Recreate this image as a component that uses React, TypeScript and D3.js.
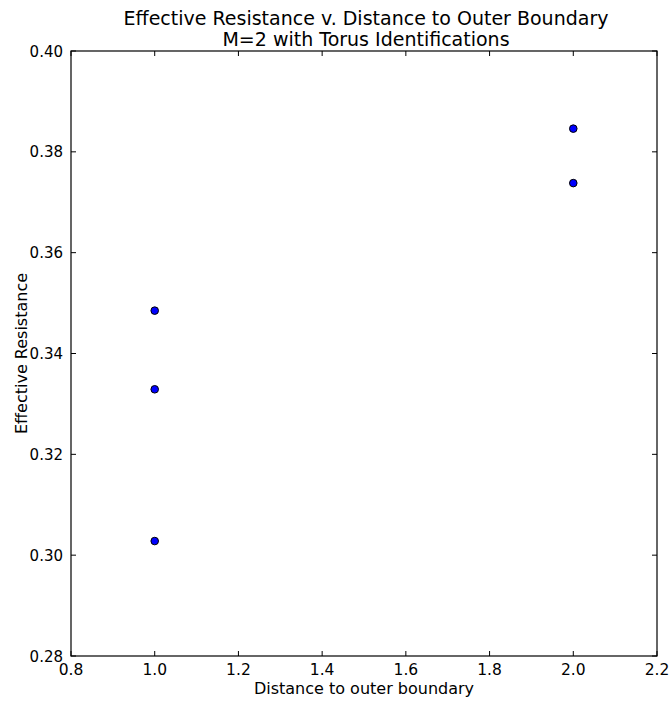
import React from "react";
import * as d3 from "d3";

const xValues = [1.0, 1.0, 1.0, 2.0, 2.0];
const yValues = [0.3485, 0.3329, 0.3028, 0.3846, 0.3738];
const xTicks = [0.8, 1.0, 1.2, 1.4, 1.6, 1.8, 2.0, 2.2];
const yTicks = [0.28, 0.3, 0.32, 0.34, 0.36, 0.38, 0.4];
const titleLines = ["Effective Resistance v. Distance to Outer Boundary", "M=2 with Torus Identifications"];
const xLabel = "Distance to outer boundary";
const yLabel = "Effective Resistance";

const W = 672, H = 703;
const L = 71, R = 657, T = 51, B = 656;
const font = "DejaVu Sans, sans-serif";

export default function App() {
  const x = d3.scaleLinear().domain([0.8, 2.2]).range([L, R]);
  const y = d3.scaleLinear().domain([0.28, 0.4]).range([B, T]);
  const tl = 5;
  return (
    <svg width={W} height={H} style={{ position: "absolute", left: 0, top: 0, background: "#fff" }} fontFamily={font}>
      <rect x={0} y={0} width={W} height={H} fill="#fff" />
      {titleLines.map((t, i) => (
        <text key={i} x={(L + R) / 2 + 2} y={25 + i * 21} textAnchor="middle" fontSize={19} fill="#000">{t}</text>
      ))}
      {xTicks.map((t) => (
        <g key={"x" + t}>
          <line x1={x(t)} x2={x(t)} y1={B} y2={B - tl} stroke="#000" />
          <line x1={x(t)} x2={x(t)} y1={T} y2={T + tl} stroke="#000" />
          <text x={x(t)} y={675} textAnchor="middle" fontSize={15.5} fill="#000">{t.toFixed(1)}</text>
        </g>
      ))}
      {yTicks.map((t) => (
        <g key={"y" + t}>
          <line x1={L} x2={L + tl} y1={y(t)} y2={y(t)} stroke="#000" />
          <line x1={R} x2={R - tl} y1={y(t)} y2={y(t)} stroke="#000" />
          <text x={63} y={y(t) + 5.5} textAnchor="end" fontSize={15} fill="#000">{t.toFixed(2)}</text>
        </g>
      ))}
      <rect x={L} y={T} width={R - L} height={B - T} fill="none" stroke="#000" strokeWidth={1.2} />
      {xValues.map((v, i) => (
        <circle key={i} cx={x(v)} cy={y(yValues[i])} r={3.8} fill="#0000ff" stroke="#000" strokeWidth={1} />
      ))}
      <text x={(L + R) / 2} y={694} textAnchor="middle" fontSize={16} fill="#000">{xLabel}</text>
      <text transform={`translate(27,${(T + B) / 2}) rotate(-90)`} textAnchor="middle" fontSize={16} fill="#000">{yLabel}</text>
    </svg>
  );
}
